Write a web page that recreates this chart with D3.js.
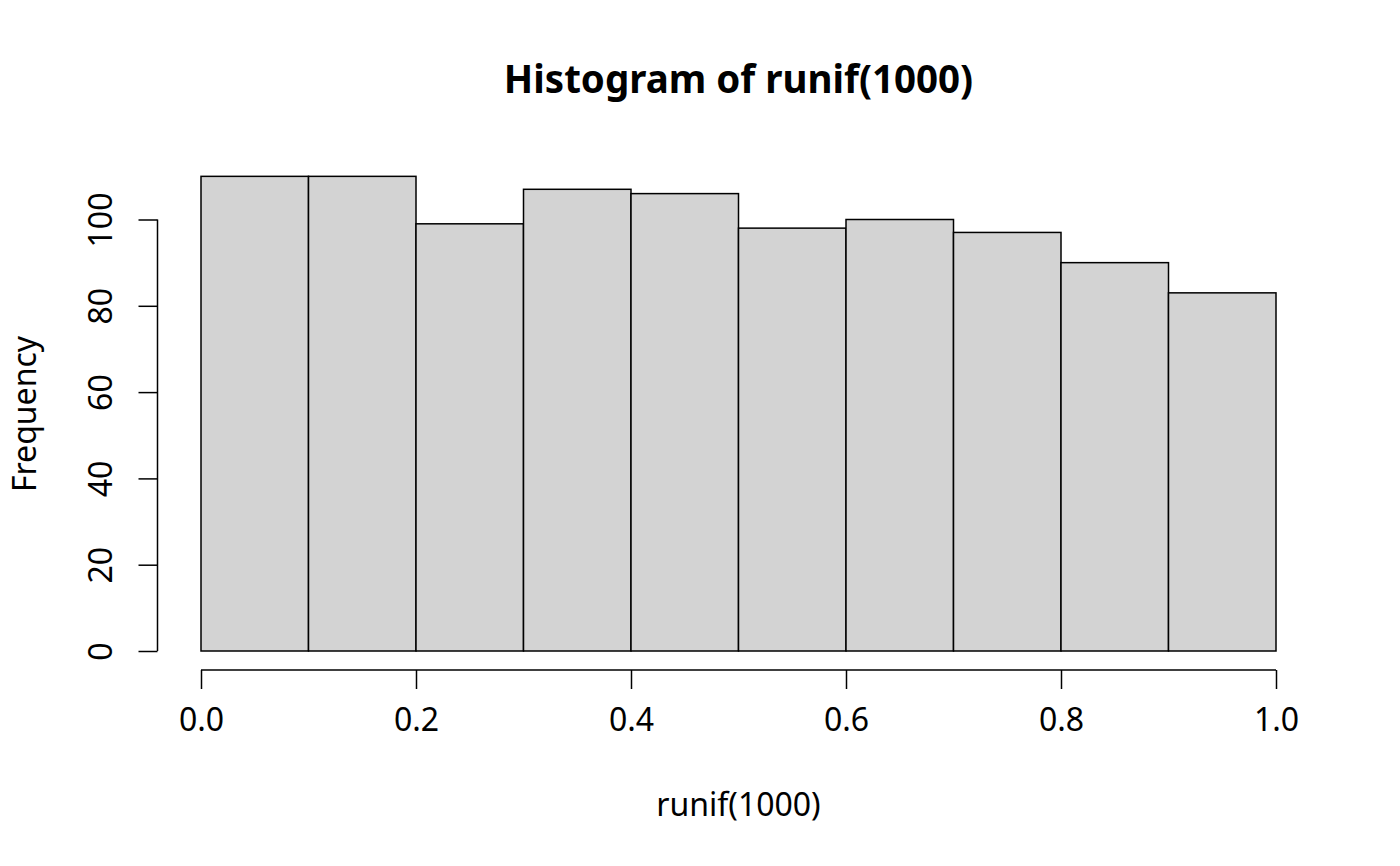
<!DOCTYPE html>
<html><head><meta charset="utf-8">
<script src="https://cdn.jsdelivr.net/npm/d3@7"></script>
<style>body{margin:0;background:#fff}svg{display:block}text{font-family:"Noto Sans",sans-serif;fill:#000}</style>
</head><body>
<script>
const binEdges = [0.0,0.1,0.2,0.3,0.4,0.5,0.6,0.7,0.8,0.9,1.0];
const counts = [110,110,99,107,106,98,100,97,90,83];
const xTicks = [0.0,0.2,0.4,0.6,0.8,1.0];
const yTicks = [0,20,40,60,80,100];
const title = "Histogram of runif(1000)";
const xLabel = "runif(1000)";
const yLabel = "Frequency";

const W=1400,H=866;
const svg=d3.select("body").append("svg").attr("width",W).attr("height",H);
const x=d3.scaleLinear().domain([0,1]).range([201,1276]);
const y=d3.scaleLinear().domain([0,100]).range([651,219.5]);

const bins=counts.map((c,i)=>({x0:binEdges[i],x1:binEdges[i+1],c}));
svg.append("g").selectAll("rect").data(bins).join("rect")
  .attr("x",d=>x(d.x0)).attr("y",d=>y(d.c))
  .attr("width",d=>x(d.x1)-x(d.x0)).attr("height",d=>y(0)-y(d.c))
  .attr("fill","#d3d3d3").attr("stroke","#000").attr("stroke-width",1.5);

const fs=32;
const xa=svg.append("g").attr("transform","translate(0,670)")
  .call(d3.axisBottom(x).tickValues(xTicks).tickFormat(d3.format(".1f")).tickSizeOuter(0).tickSize(19).tickPadding(19));
xa.select(".domain").attr("stroke-width",1.5).attr("d",`M${x(0)},0H${x(1)}`);
xa.selectAll("line").attr("stroke-width",1.5);
xa.selectAll("text").attr("font-size",fs).attr("font-family","Noto Sans");

const ya=svg.append("g").attr("transform","translate(157.5,0)")
  .call(d3.axisLeft(y).tickValues(yTicks).tickSizeOuter(0).tickSize(19));
ya.select(".domain").attr("stroke-width",1.5).attr("d",`M0,${y(0)}V${y(100)}`);
ya.selectAll("line").attr("stroke-width",1.5);
ya.selectAll(".tick text").attr("font-size",fs).attr("font-family","Noto Sans")
  .attr("x",0).attr("y",0).attr("dy",0).attr("text-anchor","middle")
  .attr("transform","translate(-46,0) rotate(-90)");

svg.append("text").attr("x",738.5).attr("y",93).attr("text-anchor","middle")
  .attr("font-size",38.5).attr("font-weight","bold").text(title);
svg.append("text").attr("x",738.5).attr("y",816).attr("text-anchor","middle")
  .attr("font-size",fs).text(xLabel);
svg.append("text").attr("transform","translate(36,414) rotate(-90)").attr("text-anchor","middle")
  .attr("font-size",fs).text(yLabel);
</script>
</body></html>
